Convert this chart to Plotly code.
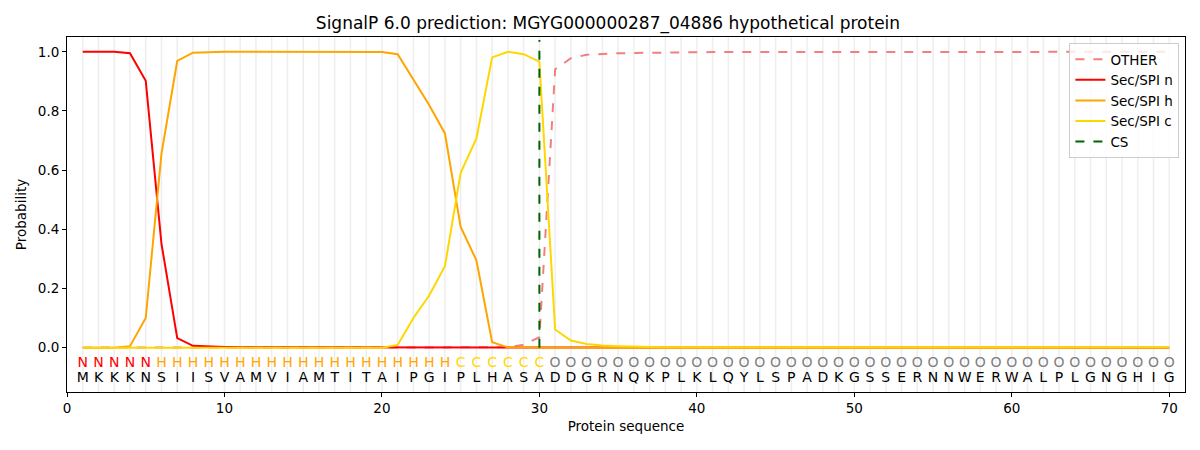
import plotly.graph_objects as go

title = "SignalP 6.0 prediction: MGYG000000287_04886 hypothetical protein"

sequence = list("MKKKNSIISVAMVIAMTITAIPGIPLHASADDGRNQKPLKLQYLSPADKGSSERNNWERWALPLGNGHIG")
labels = list("NNNNN" + "H" * 19 + "C" * 6 + "O" * 40)
positions = list(range(1, 71))

other = [0.0] * 27 + [0.001, 0.01, 0.035, 0.941, 0.978, 0.99, 0.993, 0.995, 0.996,
                      0.997, 0.998, 0.998] + [0.999] * 10 + [1.0] * 21
sec_n = [1.0, 1.0, 1.0, 0.995, 0.902, 0.351, 0.032, 0.006, 0.003, 0.002] + \
        [0.001] * 19 + [0.0] * 41
sec_h = [0.0, 0.0, 0.0, 0.005, 0.10, 0.656, 0.969, 0.997, 0.999, 1.0] + [1.0] * 9 + \
        [0.999, 0.992, 0.905, 0.82, 0.724, 0.408, 0.295, 0.018, 0.001, 0.0, 0.0] + [0.0] * 40
sec_c = [0.0] * 20 + [0.009, 0.10, 0.176, 0.275, 0.591, 0.707, 0.981, 1.0, 0.992, 0.967,
                      0.061, 0.024, 0.012, 0.007, 0.005, 0.003, 0.002] + [0.001] * 33
cs_pos = 30

label_colors = {"N": "red", "H": "orange", "C": "gold", "O": "grey"}

fig = go.Figure()

# light vertical guide at every residue
gx, gy = [], []
for p in positions:
    gx += [p, p, None]
    gy += [-0.15, 1.05, None]
fig.add_trace(go.Scatter(x=gx, y=gy, mode="lines", line=dict(color="rgba(200,200,200,0.3)", width=1.5),
                         showlegend=False, hoverinfo="skip"))

fig.add_trace(go.Scatter(x=positions, y=other, mode="lines", name="OTHER",
                         line=dict(color="lightcoral", width=2, dash="dash")))
fig.add_trace(go.Scatter(x=positions, y=sec_n, mode="lines", name="Sec/SPI n",
                         line=dict(color="red", width=2)))
fig.add_trace(go.Scatter(x=positions, y=sec_h, mode="lines", name="Sec/SPI h",
                         line=dict(color="orange", width=2)))
fig.add_trace(go.Scatter(x=positions, y=sec_c, mode="lines", name="Sec/SPI c",
                         line=dict(color="gold", width=2)))
fig.add_trace(go.Scatter(x=[cs_pos, cs_pos], y=[0, 1.04], mode="lines", name="CS",
                         line=dict(color="darkgreen", width=2, dash="dash")))

fig.add_trace(go.Scatter(x=positions, y=[-0.053] * len(positions), mode="text", text=labels,
                         textfont=dict(color=[label_colors[l] for l in labels], size=14,
                                       family="DejaVu Sans"),
                         showlegend=False, hoverinfo="skip"))
fig.add_trace(go.Scatter(x=positions, y=[-0.104] * len(positions), mode="text", text=sequence,
                         textfont=dict(color="black", size=14, family="DejaVu Sans"),
                         showlegend=False, hoverinfo="skip"))

axis_common = dict(showgrid=False, zeroline=False, showline=True, linecolor="black", mirror=True,
                   ticks="outside", ticklen=4, tickcolor="black", automargin=False,
                   tickfont=dict(size=13.5, color="black"))

# page body adds 8px offset, margins compensate
fig.update_layout(
    width=1200, height=450,
    margin=dict(l=59, r=23, t=29, b=66),
    plot_bgcolor="white", paper_bgcolor="white",
    font=dict(family="DejaVu Sans", color="black"),
    title=dict(text=title, x=0.5, xanchor="center", y=0.967, yanchor="middle",
               font=dict(size=17), automargin=False),
    xaxis=dict(range=[0, 71], tickvals=[0, 10, 20, 30, 40, 50, 60, 70],
               title=dict(text="Protein sequence", font=dict(size=13.5), standoff=6), **axis_common),
    yaxis=dict(range=[-0.15, 1.05], tickvals=[0, 0.2, 0.4, 0.6, 0.8, 1.0], tickformat=".1f",
               title=dict(text="Probability", font=dict(size=13.5), standoff=8), **axis_common),
    legend=dict(x=0.995, y=0.983, xanchor="right", yanchor="top", bgcolor="rgba(255,255,255,0.8)",
                bordercolor="#cccccc", borderwidth=1, font=dict(size=13.5)),
)

fig.write_html("out.html")
